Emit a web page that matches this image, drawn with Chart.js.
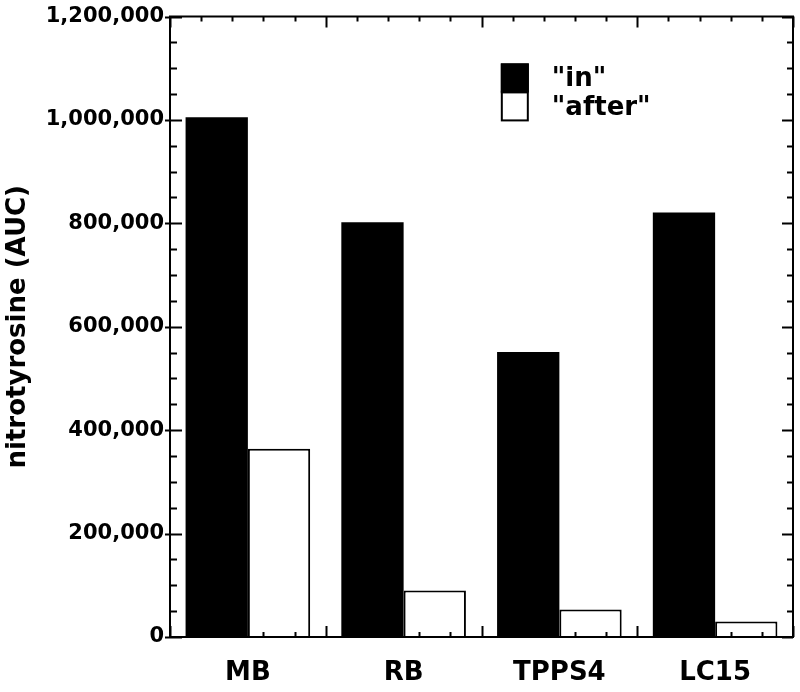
<!DOCTYPE html>
<html>
<head>
<meta charset="utf-8">
<script src="https://cdn.jsdelivr.net/npm/chart.js@4.4.0/dist/chart.umd.min.js"></script>
<style>
    html, body { margin: 0; padding: 0; background: #fff; }
    #wrap { width: 800px; height: 692px; }
</style>
</head>
<body>
<div id="wrap"><canvas id="nitroChart" width="800" height="692"></canvas></div>
<script>
// data
var categories = ["MB", "RB", "TPPS4", "LC15"];
var seriesNames = ['"in"', '"after"'];
var inValues = [1005000, 802000, 551000, 821000];
var afterValues = [364000, 90000, 53000, 30000];
var yTicks = [0, 200000, 400000, 600000, 800000, 1000000, 1200000];
var yTitle = "nitrotyrosine (AUC)";

var boldFont = "'DejaVu Sans', sans-serif";

// frame + inward tick marks on all four sides, and the stacked legend
var framePlugin = {
    id: "frame",
    afterDatasetsDraw: function (chart) {
        var ctx = chart.ctx;
        var area = chart.chartArea;
        var x = chart.scales.x;
        var y = chart.scales.y;
        ctx.save();
        ctx.strokeStyle = "#000";
        ctx.lineWidth = 2;

        // y ticks, minor every 50,000
        var yMax = yTicks[yTicks.length - 1];
        for (var v = 0; v <= yMax; v += 50000) {
            var py = Math.round(y.getPixelForValue(v)) + 0.5;
            var major = yTicks.indexOf(v) !== -1;
            ctx.beginPath();
            ctx.moveTo(area.left - (major ? 5 : 0), py);
            ctx.lineTo(area.left + (major ? 12 : 7), py);
            ctx.moveTo(area.right, py);
            ctx.lineTo(area.right - (major ? 11 : 6), py);
            ctx.stroke();
        }

        // x ticks, five per category
        for (var i = 0; i <= categories.length * 5; i++) {
            var px = Math.round(x.getPixelForValue(i / 5 - 0.5)) + 0.5;
            var big = i % 5 === 0;
            ctx.beginPath();
            ctx.moveTo(px, area.bottom);
            ctx.lineTo(px, area.bottom - (big ? 11 : 5));
            ctx.moveTo(px, area.top);
            ctx.lineTo(px, area.top + (big ? 11 : 5));
            ctx.stroke();
        }

        ctx.strokeRect(area.left, area.top, area.right - area.left, area.bottom - area.top);

        // legend inside plot, top right
        var bx = area.left + (area.right - area.left) * 0.531;
        var by = area.top + (area.bottom - area.top) * 0.0756;
        var bw = 28, bh = 29;
        ctx.font = "bold 26px " + boldFont;
        ctx.textBaseline = "middle";
        ctx.textAlign = "left";
        chart.data.datasets.forEach(function (ds, k) {
            var top = by + k * bh;
            ctx.fillStyle = ds.backgroundColor;
            ctx.fillRect(bx, top, bw, bh);
            ctx.lineWidth = 2;
            ctx.strokeRect(bx + 1, top + (k === 0 ? 1 : 0), bw - 2, bh - 1);
            ctx.fillStyle = "#000";
            ctx.fillText(ds.label, bx + 51, top + bh / 2 + 1);
        });
        ctx.restore();
    },
};

var ctx = document.getElementById("nitroChart").getContext("2d");
var chart = new Chart(ctx, {
    type: "bar",
    data: {
        labels: categories,
        datasets: [
            {
                label: seriesNames[0],
                data: inValues,
                backgroundColor: "#000",
                borderColor: "#000",
                borderWidth: 0,
                categoryPercentage: 0.8,
                barPercentage: 1.0,
            },
            {
                label: seriesNames[1],
                data: afterValues,
                backgroundColor: "#fff",
                borderColor: "#000",
                borderWidth: 2,
                categoryPercentage: 0.8,
                barPercentage: 1.0,
            },
        ],
    },
    options: {
        responsive: false,
        animation: false,
        layout: {
            padding: { left: 3, right: 7, top: 15, bottom: 0 },
        },
        plugins: {
            legend: { display: false },
            tooltip: { enabled: false },
        },
        scales: {
            x: {
                grid: { display: false, drawTicks: false },
                border: { display: false },
                ticks: {
                    color: "#000",
                    padding: 21,
                    font: { family: boldFont, size: 26, weight: "bold" },
                },
                afterFit: function (scale) {
                    scale.height = 55;
                },
            },
            y: {
                min: 0,
                max: 1200000,
                afterBuildTicks: function (scale) {
                    scale.ticks = yTicks.map(function (v) {
                        return { value: v };
                    });
                },
                grid: { display: false, drawTicks: false },
                border: { display: false },
                ticks: {
                    color: "#000",
                    padding: 6,
                    font: { family: boldFont, size: 21, weight: "bold", lineHeight: 1 },
                    callback: function (v) {
                        return v.toLocaleString("en-US");
                    },
                },
                title: {
                    display: true,
                    text: yTitle,
                    color: "#000",
                    padding: { top: 0, bottom: 6 },
                    font: { family: boldFont, size: 26, weight: "bold" },
                },
                afterFit: function (scale) {
                    scale.width = 167;
                },
            },
        },
    },
    plugins: [framePlugin],
});
</script>
</body>
</html>
